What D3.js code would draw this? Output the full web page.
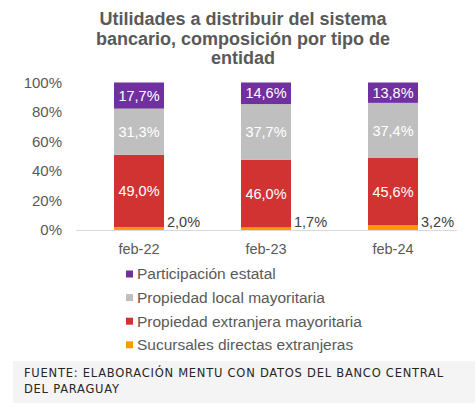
<!DOCTYPE html>
<html><head><meta charset="utf-8">
<script src="https://cdn.jsdelivr.net/npm/d3@7"></script>
<style>body{margin:0;background:#fff}svg{display:block;font-family:"Liberation Sans",Arial,sans-serif}</style>
</head><body><svg id="c" width="475" height="409"></svg>
<script>
const categories = ["feb-22","feb-23","feb-24"];
const seriesNames = ["Sucursales directas extranjeras","Propiedad extranjera mayoritaria","Propiedad local mayoritaria","Participación estatal"];
const sucursales = [2.0,1.7,3.2];
const extranjera = [49.0,46.0,45.6];
const local = [31.3,37.7,37.4];
const estatal = [17.7,14.6,13.8];
const yTicks = [0,20,40,60,80,100];
const colors = ["#ff9900","#d13232","#bfbfbf","#7030a0"];
const titleLines = ["Utilidades a distribuir del sistema","bancario, composición por tipo de","entidad"];
const source = ["FUENTE: ELABORACIÓN MENTU CON DATOS DEL BANCO CENTRAL","DEL PARAGUAY"];

const svg = d3.select("#c");
const seriesVals = [sucursales, extranjera, local, estatal];
const rows = categories.map((c,i)=>{const o={cat:c}; seriesNames.forEach((s,j)=>o[s]=seriesVals[j][i]); return o;});
const stack = d3.stack().keys(seriesNames)(rows);

const xb = d3.scaleBand().domain(categories).range([75.5,456.5]).padding(0);
const bw = 50;
const y = d3.scaleLinear().domain([0,100]).range([230,82.5]);

// title
svg.append("g").selectAll("text").data(titleLines).join("text")
  .attr("x",243).attr("y",(d,i)=>25+i*19.5).attr("text-anchor","middle")
  .attr("font-size",18).attr("font-weight","bold").attr("fill","#595959").text(d=>d);

// y axis labels
const ya = svg.append("g").attr("transform","translate(62,0)")
  .call(d3.axisLeft(y).tickValues(yTicks).tickFormat(d=>d+"%").tickSize(0).tickPadding(0));
ya.select(".domain").remove();
ya.selectAll("text").attr("font-size",15).attr("fill","#595959").attr("font-family","Liberation Sans, Arial, sans-serif");

// bars
const g = svg.append("g");
stack.forEach((s,j)=>{
  g.selectAll(null).data(s).join("rect")
    .attr("x",d=>xb(d.data.cat)+xb.bandwidth()/2-bw/2)
    .attr("width",bw)
    .attr("y",d=>y(d[1])).attr("height",d=>y(d[0])-y(d[1]))
    .attr("fill",colors[j]);
});

// x axis line
svg.append("g").attr("transform","translate(0,230)")
  .call(d3.axisBottom(xb).tickSize(0).tickPadding(10))
  .call(a=>a.select(".domain").attr("stroke","#d9d9d9").attr("stroke-width",1))
  .call(a=>a.selectAll("text").attr("font-size",14.5).attr("fill","#595959").attr("dy","0.95em").attr("font-family","Liberation Sans, Arial, sans-serif"));

const fmt = v=>v.toFixed(1).replace(".",",")+"%";
// inner labels
stack.forEach((s,j)=>{
  if(j===0){
    g.selectAll(null).data(s).join("text")
      .attr("x",d=>xb(d.data.cat)+xb.bandwidth()/2+bw/2+3)
      .attr("y",226.5).attr("font-size",14.5).attr("fill","#404040")
      .text(d=>fmt(d[1]-d[0]));
  } else {
    g.selectAll(null).data(s).join("text")
      .attr("x",d=>xb(d.data.cat)+xb.bandwidth()/2)
      .attr("y",d=>(y(d[0])+y(d[1]))/2).attr("dy","0.35em")
      .attr("text-anchor","middle").attr("font-size",14.5).attr("fill","#ffffff")
      .text(d=>fmt(d[1]-d[0]));
  }
});

// legend
const legOrder = [3,2,1,0];
const lg = svg.append("g").selectAll("g").data(legOrder).join("g")
  .attr("transform",(d,i)=>`translate(126,${274+i*23.6})`);
lg.append("rect").attr("x",0).attr("y",-3.5).attr("width",7).attr("height",7).attr("fill",d=>colors[d]);
lg.append("text").attr("x",11).attr("dy","0.35em").attr("font-size",15.5).attr("fill","#595959").text(d=>seriesNames[d]);

// source box
svg.append("rect").attr("x",13).attr("y",361).attr("width",462).attr("height",42).attr("fill","#f4f4f4");
svg.append("g").selectAll("text").data(source).join("text")
  .attr("x",24).attr("y",(d,i)=>377+i*15.5).attr("font-size",11.5).attr("fill","#262626")
  .attr("font-family","'DejaVu Sans', sans-serif").attr("letter-spacing","0.75")
  .text(d=>d);
</script></body></html>
